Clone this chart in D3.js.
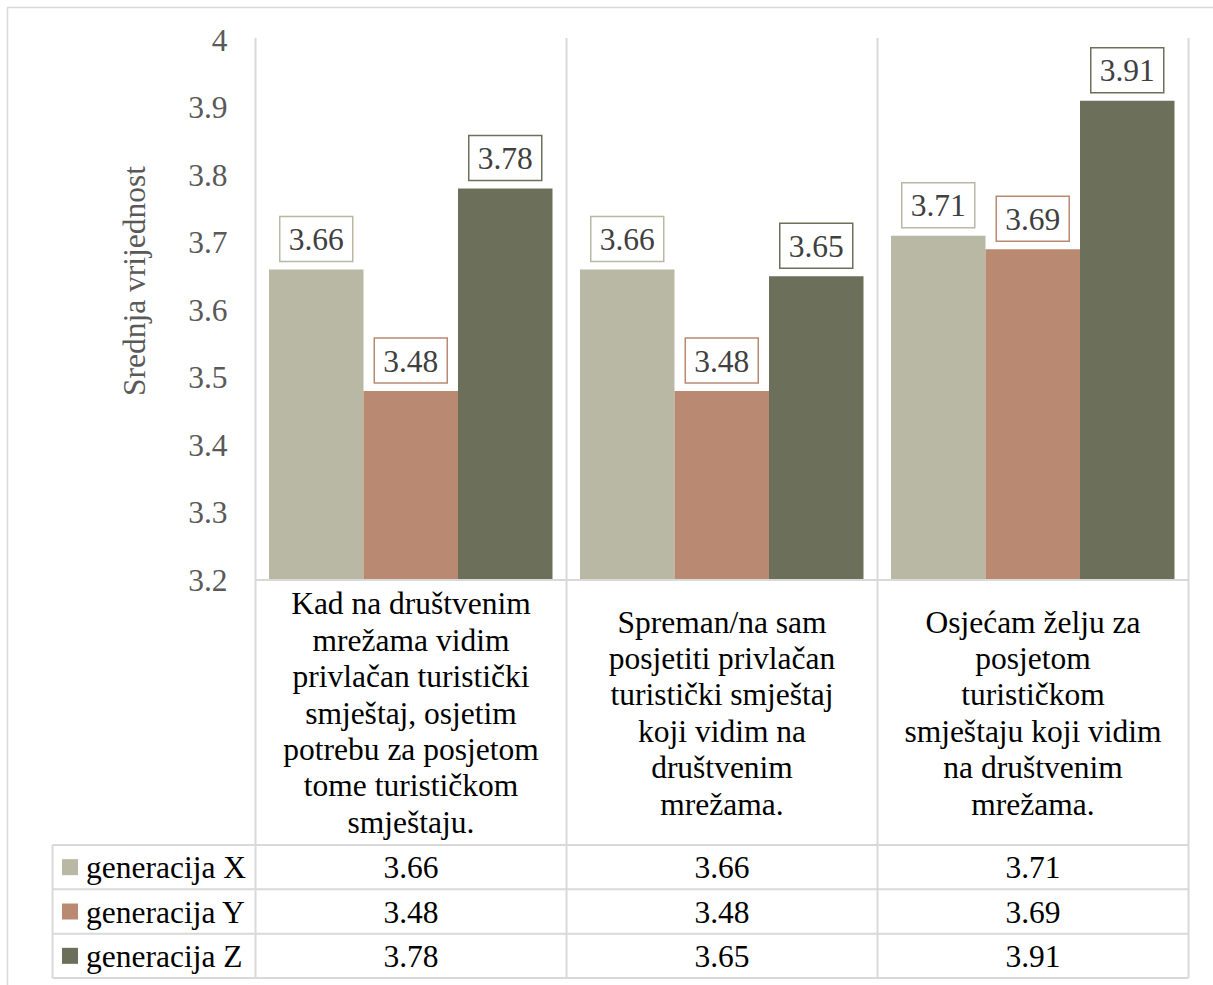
<!DOCTYPE html>
<html>
<head>
<meta charset="utf-8">
<script src="https://cdn.jsdelivr.net/npm/d3@7"></script>
<style>
  body { margin: 0; background: #fff; }
  svg { display: block; }
  svg text { font-family: "Liberation Serif", "Times New Roman", serif; }
</style>
</head>
<body>
<svg id="chart" width="1213" height="985"></svg>
<script>
// categories (line breaks as in the original table header)
var categories = [
  "Kad na društvenim\nmrežama vidim\nprivlačan turistički\nsmještaj, osjetim\npotrebu za posjetom\ntome turističkom\nsmještaju.",
  "Spreman/na sam\nposjetiti privlačan\nturistički smještaj\nkoji vidim na\ndruštvenim\nmrežama.",
  "Osjećam želju za\nposjetom\nturističkom\nsmještaju koji vidim\nna društvenim\nmrežama."
];
var seriesNames = ["generacija X", "generacija Y", "generacija Z"];
var genX = [3.66, 3.66, 3.71];
var genY = [3.48, 3.48, 3.69];
var genZ = [3.78, 3.65, 3.91];
var yTicks = [3.2, 3.3, 3.4, 3.5, 3.6, 3.7, 3.8, 3.9, 4];
var yTitle = "Srednja vrijednost";
var colors = ["#b9b8a4", "#b98a71", "#6c705b"];

(function() {
  var seriesValues = [genX, genY, genZ];
  var rows = seriesNames.map(function(n, i) {
    return { name: n, color: colors[i], values: seriesValues[i] };
  });

  var svg = d3.select("#chart");
  var fontSize = 31.5;
  var gridColor = "#d9d9d9";

  var plotLeft = 255.5, plotRight = 1188.5, plotTop = 40, plotBottom = 580;
  var tableTop = 845, tableBottom = 978, legendLeft = 52.5;

  // outer chart border
  svg.append("rect")
    .attr("x", 7.5).attr("y", 7.5)
    .attr("width", 1220).attr("height", 1000)
    .attr("fill", "#fff")
    .attr("stroke", gridColor).attr("stroke-width", 1.5);

  var y = d3.scaleLinear().domain([3.2, 4]).range([plotBottom, plotTop]);
  var x0 = d3.scaleBand().domain(d3.range(categories.length)).range([plotLeft, plotRight]);
  var x1 = d3.scaleBand().domain(d3.range(seriesNames.length))
    .range([13.5, x0.bandwidth() - 14]);

  // y axis labels
  var fmt = function(d) { return d3.format(".1f")(d).replace(/\.0$/, ""); };
  var yAxis = svg.append("g")
    .attr("transform", "translate(" + (plotLeft - 28) + ",0)")
    .call(d3.axisLeft(y).tickValues(yTicks).tickFormat(fmt).tickSize(0).tickPadding(0));
  yAxis.select(".domain").remove();
  yAxis.selectAll("text")
    .attr("font-size", fontSize)
    .attr("font-family", "Liberation Serif")
    .attr("fill", "#595959");

  // axis title
  svg.append("text")
    .attr("transform", "translate(145,281) rotate(-90)")
    .attr("text-anchor", "middle")
    .attr("font-size", fontSize)
    .attr("fill", "#595959")
    .text(yTitle);

  // vertical lines: axis + category separators (run through the table)
  var edges = categories.map(function(c, i) { return x0(i); }).concat([plotRight]);
  svg.selectAll(".sep").data(edges).enter().append("line")
    .attr("x1", function(d) { return d; }).attr("x2", function(d) { return d; })
    .attr("y1", plotTop - 2).attr("y2", tableBottom)
    .attr("stroke", gridColor).attr("stroke-width", 2);

  // bars
  var groups = svg.selectAll(".grp").data(categories).enter().append("g")
    .attr("transform", function(d, i) { return "translate(" + x0(i) + ",0)"; });

  var cells = function(d, ci) {
    return rows.map(function(r, si) { return { si: si, v: r.values[ci], color: r.color }; });
  };

  groups.selectAll("rect").data(cells).enter().append("rect")
    .attr("x", function(d) { return x1(d.si); })
    .attr("y", function(d) { return y(d.v); })
    .attr("width", x1.bandwidth())
    .attr("height", function(d) { return plotBottom - y(d.v); })
    .attr("fill", function(d) { return d.color; });

  // value labels with boxes
  var lab = groups.selectAll(".lab").data(cells).enter().append("g")
    .attr("transform", function(d) {
      return "translate(" + (x1(d.si) + x1.bandwidth() / 2) + "," + (y(d.v) - 8) + ")";
    });
  lab.append("rect")
    .attr("x", -36.5).attr("y", -45)
    .attr("width", 73).attr("height", 45)
    .attr("fill", "#fff")
    .attr("stroke", function(d) { return d.color; })
    .attr("stroke-width", 1.5);
  lab.append("text")
    .attr("y", -22.5).attr("dy", "0.35em")
    .attr("text-anchor", "middle")
    .attr("font-size", fontSize)
    .attr("fill", "#404040")
    .text(function(d) { return d3.format(".2f")(d.v); });

  // x axis line
  svg.append("line")
    .attr("x1", plotLeft).attr("x2", plotRight)
    .attr("y1", plotBottom).attr("y2", plotBottom)
    .attr("stroke", gridColor).attr("stroke-width", 2);

  // category labels
  var lineH = 36.4;
  categories.forEach(function(c, i) {
    var lines = c.split("\n");
    var cy = (plotBottom + tableTop) / 2 - (lines.length - 1) * lineH / 2;
    var t = svg.append("text")
      .attr("text-anchor", "middle")
      .attr("font-size", fontSize)
      .attr("fill", "#000");
    lines.forEach(function(l, k) {
      t.append("tspan")
        .attr("x", x0(i) + x0.bandwidth() / 2)
        .attr("y", cy + k * lineH)
        .attr("dy", "0.35em")
        .text(l);
    });
  });

  // data table
  var rowY = d3.scaleBand().domain(d3.range(rows.length)).range([tableTop, tableBottom]);
  svg.selectAll(".hline").data(d3.range(rows.length + 1)).enter().append("line")
    .attr("x1", legendLeft).attr("x2", plotRight)
    .attr("y1", function(d) { return d < rows.length ? rowY(d) : tableBottom; })
    .attr("y2", function(d) { return d < rows.length ? rowY(d) : tableBottom; })
    .attr("stroke", gridColor).attr("stroke-width", 2);
  svg.append("line")
    .attr("x1", legendLeft).attr("x2", legendLeft)
    .attr("y1", tableTop).attr("y2", tableBottom)
    .attr("stroke", gridColor).attr("stroke-width", 2);

  var tr = svg.selectAll(".row").data(rows).enter().append("g")
    .attr("transform", function(d, i) { return "translate(0," + (rowY(i) + rowY.bandwidth() / 2) + ")"; });
  tr.append("rect")
    .attr("x", 62).attr("y", -8)
    .attr("width", 16).attr("height", 16)
    .attr("fill", function(d) { return d.color; });
  tr.append("text")
    .attr("x", 86).attr("dy", "0.35em")
    .attr("font-size", fontSize)
    .attr("fill", "#000")
    .text(function(d) { return d.name; });
  tr.selectAll(".val").data(function(d) { return d.values; }).enter().append("text")
    .attr("x", function(d, i) { return x0(i) + x0.bandwidth() / 2; })
    .attr("dy", "0.35em")
    .attr("text-anchor", "middle")
    .attr("font-size", fontSize)
    .attr("fill", "#000")
    .text(function(d) { return d3.format(".2f")(d); });
})();
</script>
</body>
</html>
